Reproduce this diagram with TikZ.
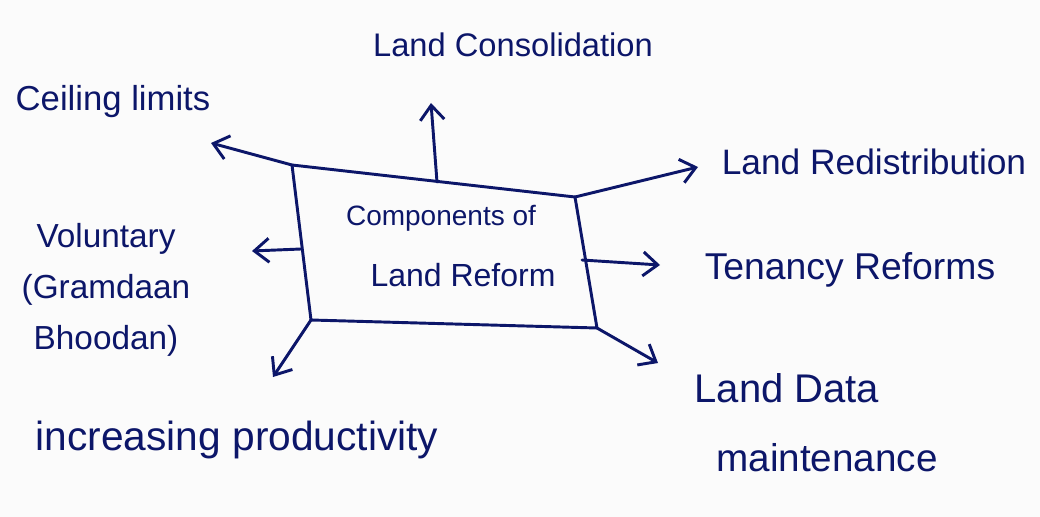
\documentclass[tikz,border=0pt]{standalone}
\usepackage{fontspec}
\setmainfont{Liberation Sans}
\usetikzlibrary{arrows.meta}
\definecolor{ink}{RGB}{12,22,105}
\definecolor{paper}{RGB}{251,251,251}
\tikzset{
  ink line/.style={draw=ink, line width=2.2pt, line cap=round, line join=round},
  conn/.style={ink line, -{Straight Barb[length=11pt,width=18pt,line width=2.2pt]}},
  lbl/.style={text=ink, inner sep=0pt, align=center},
}
\begin{document}
\begin{tikzpicture}[x=0.75pt,y=-0.75pt]
\useasboundingbox[fill=paper] (0,0) rectangle (1040,517);
% central box
\coordinate (tl) at (292,165);
\coordinate (tr) at (575,197);
\coordinate (br) at (597,328);
\coordinate (bl) at (311,320);
\draw[ink line] (tl) -- (tr) -- (br) -- (bl) -- cycle;
\node[lbl, font=\fontsize{21}{26}\selectfont] (c1) at (441,218) {Components of};
\node[lbl, font=\fontsize{24}{28}\selectfont] (c2) at (463,275) {Land Reform};
% labels
\node[lbl, font=\fontsize{24.5}{28}\selectfont] (cons) at (513,45) {Land Consolidation};
\node[lbl, font=\fontsize{26}{30}\selectfont] (ceil) at (113,102) {Ceiling limits};
\node[lbl, font=\fontsize{26.5}{30}\selectfont] (redis) at (874,162) {Land Redistribution};
\node[lbl, font=\fontsize{28}{30}\selectfont] (ten) at (850,270) {Tenancy Reforms};
\node[lbl, font=\fontsize{25}{38}\selectfont] (vol) at (106,290) {Voluntary\\(Gramdaan\\Bhoodan)};
\node[lbl, font=\fontsize{30}{32}\selectfont] (data) at (787,388) {Land Data};
\node[lbl, font=\fontsize{29}{32}\selectfont] (maint) at (827,458) {maintenance};
\node[lbl, font=\fontsize{30.5}{32}\selectfont] (prod) at (237,440) {increasing productivity};
% connector anchors on the box and free tips
\coordinate (sTop) at (437,182);
\coordinate (eTop) at (431,103);
\coordinate (eCeil) at (211,143);
\coordinate (sVol) at (301,249);
\coordinate (eVol) at (252,251);
\coordinate (eProd) at (273,377);
\coordinate (sTen) at (582,260);
\coordinate (eTen) at (660,265);
\coordinate (eRed) at (698,167);
\coordinate (eData) at (658,363);
% connectors
\draw[conn] (sTop) -- (eTop);
\draw[conn] (tl) -- (eCeil);
\draw[conn] (sVol) -- (eVol);
\draw[conn] (bl) -- (eProd);
\draw[conn] (tr) -- (eRed);
\draw[conn] (sTen) -- (eTen);
\draw[conn] (br) -- (eData);
\end{tikzpicture}
\end{document}
